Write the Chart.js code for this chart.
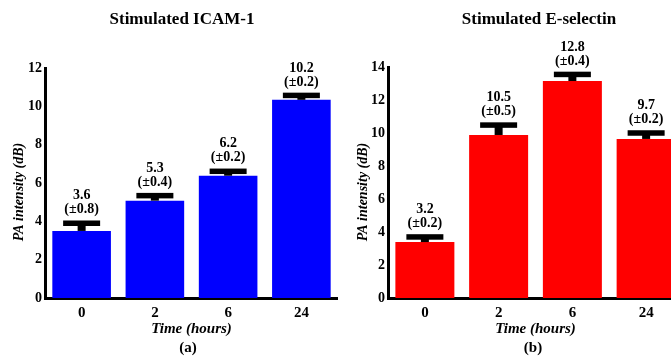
<!DOCTYPE html>
<html>
<head>
<meta charset="utf-8">
<script src="https://cdn.jsdelivr.net/npm/chart.js@4.4.0/dist/chart.umd.min.js"></script>
<style>
  html, body { margin: 0; padding: 0; background: #fff; overflow: hidden; }
  body { width: 671px; height: 356px; position: relative; }
  canvas { position: absolute; top: 0; }
  #chart-a { left: 0; }
  #chart-b { left: 338px; }
</style>
</head>
<body>
<canvas id="chart-a" width="338" height="356"></canvas>
<canvas id="chart-b" width="345" height="356"></canvas>
<script>
const hours = ["0", "2", "6", "24"];

// ICAM-1 panel (a)
const icamBars = [3.5, 5.08, 6.38, 10.34];
const icamErr = [0.4, 0.26, 0.23, 0.23];
const icamMeans = ["3.6", "5.3", "6.2", "10.2"];
const icamSd = ["±0.8", "±0.4", "±0.2", "±0.2"];
const icamTicks = [0, 2, 4, 6, 8, 10, 12];

// E-selectin panel (b)
const selBars = [3.39, 9.88, 13.15, 9.64];
const selErr = [0.31, 0.6, 0.4, 0.36];
const selMeans = ["3.2", "10.5", "12.8", "9.7"];
const selSd = ["±0.2", "±0.5", "±0.4", "±0.2"];
const selTicks = [0, 2, 4, 6, 8, 10, 12, 14];

const FONT = '"Liberation Serif", "Times New Roman", serif';

// error caps, value labels, title, y title and panel tag
const panelText = {
  id: "panelText",
  afterDatasetsDraw(chart, args, opts) {
    const ctx = chart.ctx;
    const y = chart.scales.y;
    const ds = chart.data.datasets[0];
    const meta = chart.getDatasetMeta(0);
    ctx.save();
    ctx.fillStyle = "#000";
    ctx.textAlign = "center";
    ctx.textBaseline = "middle";
    meta.data.forEach((bar, i) => {
      const capY = y.getPixelForValue(ds.data[i] + ds.err[i]);
      ctx.fillRect(bar.x - 4, capY, 8, bar.y - capY);
      ctx.fillRect(bar.x - 18.5, capY - 2.75, 37, 5.5);
      ctx.font = "bold 14px " + FONT;
      ctx.fillText(ds.means[i], bar.x, capY - 27.5);
      ctx.fillText("(" + ds.sd[i] + ")", bar.x, capY - 13.5);
    });
    ctx.font = "bold 17px " + FONT;
    ctx.fillText(opts.title, opts.titleX, 20);
    ctx.font = "bold 15px " + FONT;
    ctx.fillText(opts.tag, opts.tagX, 348);
    ctx.translate(opts.yTitleX, 192);
    ctx.rotate(-Math.PI / 2);
    ctx.font = "italic bold 14px " + FONT;
    ctx.fillText("PA intensity (dB)", 0, 0);
    ctx.restore();
  }
};

function makePanel(id, bars, err, means, sd, ticks, color, yWidth, text) {
  new Chart(document.getElementById(id).getContext("2d"), {
    type: "bar",
    data: {
      labels: hours,
      datasets: [{
        data: bars,
        err: err,
        means: means,
        sd: sd,
        backgroundColor: color,
        borderWidth: 0,
        barPercentage: 0.8,
        categoryPercentage: 1.0,
      }],
    },
    options: {
      responsive: false,
      animation: false,
      layout: { padding: { top: text.top, left: 0, right: 0, bottom: 0 } },
      plugins: {
        legend: { display: false },
        tooltip: { enabled: false },
        panelText: text,
      },
      scales: {
        x: {
          grid: { display: false, drawTicks: false },
          border: { display: true, color: "#000", width: 3 },
          ticks: { color: "#000", padding: 6, font: { family: FONT, size: 15, weight: "bold" } },
          title: {
            display: true,
            text: "Time (hours)",
            color: "#000",
            padding: { top: 0, bottom: 18 },
            font: { family: FONT, size: 15, weight: "bold", style: "italic" },
          },
          afterFit(s) { s.height = 58; },
        },
        y: {
          min: ticks[0],
          max: ticks[ticks.length - 1],
          grid: { display: false, drawTicks: false },
          border: { display: true, color: "#000", width: 3 },
          ticks: { stepSize: 2, color: "#000", padding: 3, font: { family: FONT, size: 14, weight: "bold" } },
          afterFit(s) { s.width = yWidth; },
        },
      },
    },
    plugins: [panelText],
  });
}

makePanel("chart-a", icamBars, icamErr, icamMeans, icamSd, icamTicks, "#0000ff", 45,
  { top: 68, title: "Stimulated ICAM-1", titleX: 182, tag: "(a)", tagX: 188, yTitleX: 19 });
makePanel("chart-b", selBars, selErr, selMeans, selSd, selTicks, "#ff0000", 50,
  { top: 67, title: "Stimulated E-selectin", titleX: 201, tag: "(b)", tagX: 195, yTitleX: 25 });
</script>
</body>
</html>
